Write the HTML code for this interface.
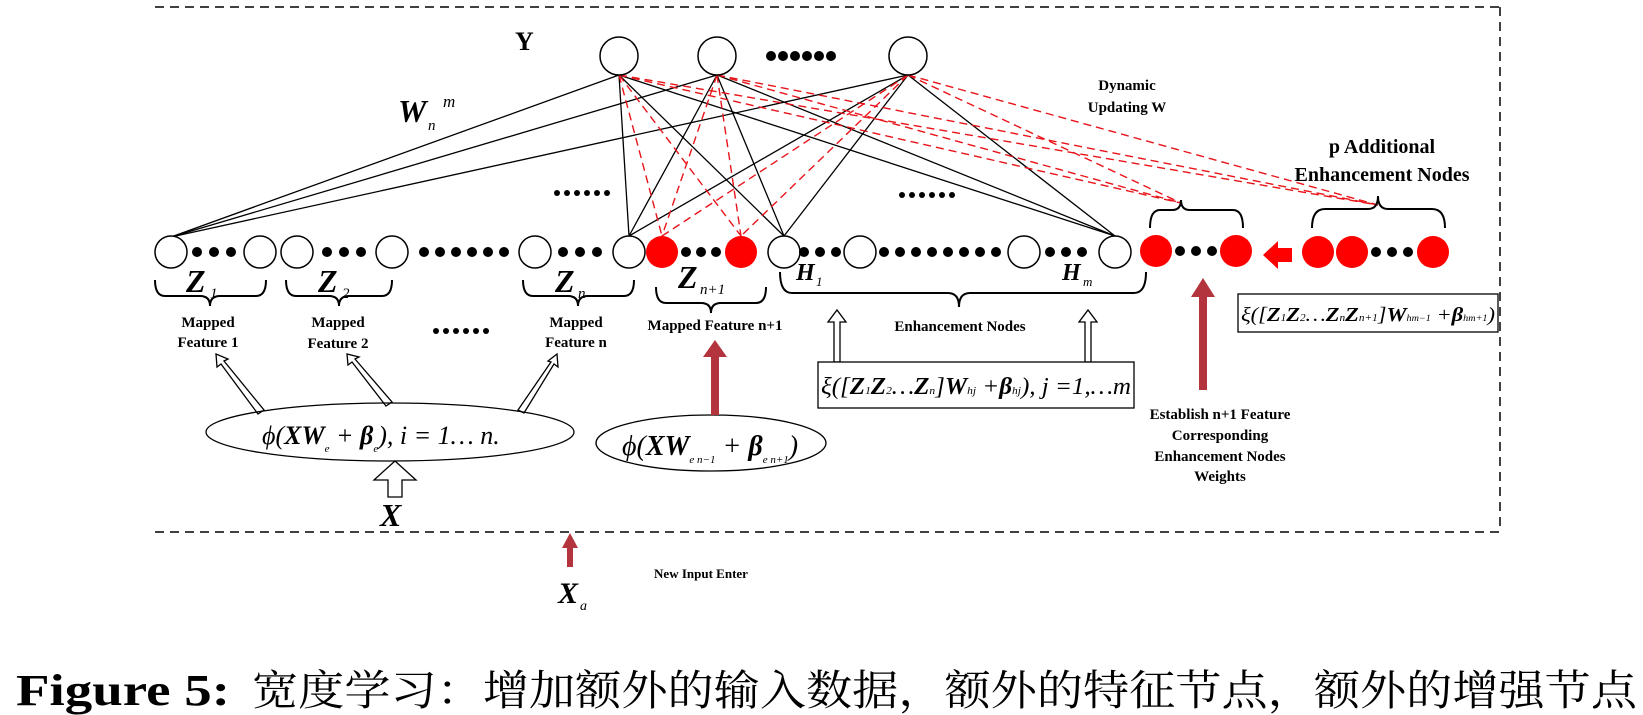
<!DOCTYPE html>
<html><head><meta charset="utf-8"><style>
body{margin:0;background:#fff;}
svg{display:block;}
.t{font-family:"Liberation Serif",serif;font-weight:bold;}
.m{font-family:"Liberation Serif",serif;font-style:italic;}
</style></head><body>
<svg width="1643" height="715" viewBox="0 0 1643 715" xmlns="http://www.w3.org/2000/svg">
<!-- frame -->
<g stroke="#000" stroke-width="1.5" stroke-dasharray="9,6" fill="none">
<line x1="155" y1="7" x2="1500" y2="7"/>
<line x1="1500" y1="7" x2="1500" y2="532"/>
<line x1="155" y1="532" x2="1500" y2="532"/>
</g>
<!-- black connections -->
<g stroke="#000" stroke-width="1.3">
<line x1="619" y1="75" x2="171" y2="237"/><line x1="717" y1="75" x2="171" y2="237"/><line x1="908" y1="75" x2="171" y2="237"/>
<line x1="619" y1="75" x2="629" y2="236"/><line x1="717" y1="75" x2="629" y2="236"/><line x1="908" y1="75" x2="629" y2="236"/>
<line x1="619" y1="75" x2="784" y2="236"/><line x1="717" y1="75" x2="784" y2="236"/><line x1="908" y1="75" x2="784" y2="236"/>
<line x1="619" y1="75" x2="1115" y2="236"/><line x1="717" y1="75" x2="1115" y2="236"/><line x1="908" y1="75" x2="1115" y2="236"/>
</g>
<!-- red dashed -->
<g stroke="#e8141a" stroke-width="1.4" stroke-dasharray="8,5">
<line x1="619" y1="75" x2="662" y2="236"/><line x1="717" y1="75" x2="662" y2="236"/><line x1="908" y1="75" x2="662" y2="236"/>
<line x1="619" y1="75" x2="741" y2="236"/><line x1="717" y1="75" x2="741" y2="236"/><line x1="908" y1="75" x2="741" y2="236"/>
<line x1="619" y1="75" x2="1181" y2="203"/><line x1="717" y1="75" x2="1181" y2="203"/><line x1="908" y1="75" x2="1181" y2="203"/>
<line x1="619" y1="75" x2="1378" y2="205"/><line x1="717" y1="75" x2="1378" y2="205"/><line x1="908" y1="75" x2="1378" y2="205"/>
</g>
<!-- output nodes -->
<g fill="#fff" stroke="#000" stroke-width="1.5">
<circle cx="619" cy="56" r="19"/><circle cx="717" cy="56" r="19"/><circle cx="908" cy="56" r="19"/>
</g>
<g fill="#000"><circle cx="771" cy="56" r="5"/><circle cx="783" cy="56" r="5"/><circle cx="795" cy="56" r="5"/><circle cx="807" cy="56" r="5"/><circle cx="819" cy="56" r="5"/><circle cx="831" cy="56" r="5"/></g>
<text class="t" x="515" y="50" font-size="26">Y</text>
<text class="m" x="398" y="122" font-size="32" font-weight="bold">W</text>
<text class="m" x="428" y="130" font-size="15">n</text>
<text class="m" x="443" y="107" font-size="17">m</text>
<g fill="#000">
<circle cx="557" cy="193" r="3"/><circle cx="567" cy="193" r="3"/><circle cx="577" cy="193" r="3"/><circle cx="587" cy="193" r="3"/><circle cx="597" cy="193" r="3"/><circle cx="607" cy="193" r="3"/>
<circle cx="902" cy="195" r="3"/><circle cx="912" cy="195" r="3"/><circle cx="922" cy="195" r="3"/><circle cx="932" cy="195" r="3"/><circle cx="942" cy="195" r="3"/><circle cx="952" cy="195" r="3"/>
<circle cx="436" cy="331" r="3"/><circle cx="446" cy="331" r="3"/><circle cx="456" cy="331" r="3"/><circle cx="466" cy="331" r="3"/><circle cx="476" cy="331" r="3"/><circle cx="486" cy="331" r="3"/>
</g>
<text class="t" x="1127" y="90" font-size="15" text-anchor="middle">Dynamic</text>
<text class="t" x="1127" y="112" font-size="15" text-anchor="middle">Updating W</text>
<text class="t" x="1382" y="153" font-size="20" text-anchor="middle">p Additional</text>
<text class="t" x="1382" y="181" font-size="20" text-anchor="middle">Enhancement Nodes</text>
<!-- bottom row nodes -->
<g fill="#fff" stroke="#000" stroke-width="1.5">
<ellipse cx="171" cy="252" rx="16" ry="16"/><ellipse cx="260" cy="252" rx="16" ry="16"/>
<ellipse cx="297" cy="252" rx="16" ry="16"/><ellipse cx="392" cy="252" rx="16" ry="16"/>
<ellipse cx="535" cy="252" rx="16" ry="16"/><ellipse cx="629" cy="252" rx="16" ry="16"/>
<ellipse cx="784" cy="252" rx="16" ry="16"/><ellipse cx="860" cy="252" rx="16" ry="16"/>
<ellipse cx="1024" cy="252" rx="16" ry="16"/><ellipse cx="1115" cy="252" rx="16" ry="16"/>
</g>
<g fill="#f00">
<ellipse cx="662" cy="252" rx="16" ry="16"/><ellipse cx="741" cy="252" rx="16" ry="16"/>
<circle cx="1156" cy="251" r="16"/><circle cx="1236" cy="251" r="16"/>
<circle cx="1318" cy="252" r="16"/><circle cx="1352" cy="252" r="16"/><circle cx="1433" cy="252" r="16"/>
<polygon points="1263,255 1278,241 1278,248 1292,248 1292,262 1278,262 1278,269"/>
</g>
<g fill="#000">
<circle cx="197" cy="252" r="5"/><circle cx="214" cy="252" r="5"/><circle cx="231" cy="252" r="5"/>
<circle cx="327" cy="252" r="5"/><circle cx="344" cy="252" r="5"/><circle cx="361" cy="252" r="5"/>
<circle cx="424" cy="252" r="5"/><circle cx="440" cy="252" r="5"/><circle cx="456" cy="252" r="5"/><circle cx="472" cy="252" r="5"/><circle cx="488" cy="252" r="5"/><circle cx="504" cy="252" r="5"/>
<circle cx="563" cy="252" r="5"/><circle cx="580" cy="252" r="5"/><circle cx="597" cy="252" r="5"/>
<circle cx="686" cy="252" r="5"/><circle cx="701" cy="252" r="5"/><circle cx="716" cy="252" r="5"/>
<circle cx="804" cy="252" r="5"/><circle cx="820" cy="252" r="5"/><circle cx="836" cy="252" r="5"/>
<circle cx="884" cy="252" r="5"/><circle cx="900" cy="252" r="5"/><circle cx="916" cy="252" r="5"/><circle cx="932" cy="252" r="5"/><circle cx="948" cy="252" r="5"/><circle cx="964" cy="252" r="5"/><circle cx="980" cy="252" r="5"/><circle cx="996" cy="252" r="5"/>
<circle cx="1050" cy="252" r="5"/><circle cx="1066" cy="252" r="5"/><circle cx="1082" cy="252" r="5"/>
<circle cx="1180" cy="251" r="5"/><circle cx="1196" cy="251" r="5"/><circle cx="1212" cy="251" r="5"/>
<circle cx="1376" cy="252" r="5"/><circle cx="1392" cy="252" r="5"/><circle cx="1408" cy="252" r="5"/>
</g>
<!-- braces -->
<g fill="none" stroke="#000" stroke-width="2">
<path d="M155,280 Q155,296 165,296 L200,296 Q210,296 210,306 Q210,296 220,296 L256,296 Q266,296 266,280"/>
<path d="M286,280 Q286,296 296,296 L329,296 Q339,296 339,306 Q339,296 349,296 L382,296 Q392,296 392,280"/>
<path d="M523,280 Q523,296 533,296 L568,296 Q578,296 578,306 Q578,296 588,296 L624,296 Q634,296 634,280"/>
<path d="M656,287 Q656,303 666,303 L701,303 Q711,303 711,313 Q711,303 721,303 L756,303 Q766,303 766,287"/>
<path d="M780,272 Q780,293 792,293 L948,293 Q959,293 959,307 Q959,293 970,293 L1134,293 Q1146,293 1146,272"/>
<path d="M1150,228 Q1150,210 1160,210 L1172,210 Q1181,210 1181,200 Q1181,210 1190,210 L1233,210 Q1243,210 1243,228"/>
<path d="M1312,228 Q1312,209 1325,209 L1368,209 Q1378,209 1378,196 Q1378,209 1388,209 L1432,209 Q1445,209 1445,228"/>
</g>
<!-- Z labels -->
<g class="m" font-weight="bold">
<text x="186" y="292" font-size="32">Z</text><text x="210" y="298" font-size="15" font-weight="normal">1</text>
<text x="318" y="292" font-size="32">Z</text><text x="342" y="298" font-size="15" font-weight="normal">2</text>
<text x="555" y="292" font-size="32">Z</text><text x="578" y="298" font-size="15" font-weight="normal">n</text>
<text x="678" y="288" font-size="32">Z</text><text x="700" y="294" font-size="15" font-weight="normal">n+1</text>
<text x="796" y="280" font-size="24">H</text><text x="816" y="286" font-size="13" font-weight="normal">1</text>
<text x="1062" y="280" font-size="24">H</text><text x="1083" y="286" font-size="13" font-weight="normal">m</text>
</g>
<!-- labels -->
<g class="t" font-size="15" text-anchor="middle">
<text x="208" y="327">Mapped</text><text x="208" y="347">Feature 1</text>
<text x="338" y="327">Mapped</text><text x="338" y="348">Feature 2</text>
<text x="576" y="327">Mapped</text><text x="576" y="347">Feature n</text>
<text x="715" y="330">Mapped Feature n+1</text>
<text x="960" y="331">Enhancement Nodes</text>
<text x="1220" y="419">Establish n+1 Feature</text>
<text x="1220" y="440">Corresponding</text>
<text x="1220" y="461">Enhancement Nodes</text>
<text x="1220" y="481">Weights</text>
<text x="701" y="578" font-size="13">New Input Enter</text>
</g>
<!-- hollow arrows -->
<g fill="#fff" stroke="#000" stroke-width="1.3">
<polygon points="264,410 258,414 221,364 217,367 216,354 228,359 224,361"/>
<polygon points="392,402 386,406 352,362 348,365 347,354 359,357 355,359"/>
<polygon points="518,410 524,413 554,364 558,367 557,354 548,361 551,362"/>
<polygon points="388,497 388,480 374,480 395,461 416,480 402,480 402,497"/>
<polygon points="834,362 834,322 828,322 837,310 846,322 840,322 840,362"/>
<polygon points="1085,362 1085,322 1079,322 1088,310 1097,322 1091,322 1091,362"/>
</g>
<!-- ellipses -->
<ellipse cx="390" cy="432" rx="184" ry="29" fill="none" stroke="#000" stroke-width="1.3"/>
<text class="m" x="262" y="444" font-size="26"><tspan>ϕ(</tspan><tspan font-weight="bold">XW</tspan><tspan font-size="11" dy="8">e</tspan><tspan dy="-8"> + </tspan><tspan font-weight="bold">β</tspan><tspan font-size="11" dy="8">e</tspan><tspan dy="-8">), i = 1… n.</tspan></text>
<ellipse cx="711" cy="443" rx="115" ry="28" fill="none" stroke="#000" stroke-width="1.3"/>
<text class="m" x="622" y="455" font-size="28"><tspan>ϕ(</tspan><tspan font-weight="bold">XW</tspan><tspan font-size="11" dy="8">e n−1</tspan><tspan dy="-8"> + </tspan><tspan font-weight="bold">β</tspan><tspan font-size="11" dy="8">e n+1</tspan><tspan dy="-8">)</tspan></text>
<!-- boxes -->
<rect x="818" y="362" width="316" height="46" fill="#fff" stroke="#000" stroke-width="1.3"/>
<text class="m" x="821" y="394" font-size="24" textLength="310" lengthAdjust="spacingAndGlyphs"><tspan>ξ([</tspan><tspan font-weight="bold">Z</tspan><tspan font-size="11">1</tspan><tspan font-weight="bold">Z</tspan><tspan font-size="11">2</tspan><tspan>…</tspan><tspan font-weight="bold">Z</tspan><tspan font-size="11">n</tspan><tspan>]</tspan><tspan font-weight="bold">W</tspan><tspan font-size="11">hj</tspan><tspan> +</tspan><tspan font-weight="bold">β</tspan><tspan font-size="11">hj</tspan><tspan>), j =1,…m</tspan></text>
<rect x="1238" y="294" width="260" height="38" fill="#fff" stroke="#000" stroke-width="1.3"/>
<text class="m" x="1241" y="321" font-size="20" textLength="254" lengthAdjust="spacingAndGlyphs"><tspan>ξ([</tspan><tspan font-weight="bold">Z</tspan><tspan font-size="10">1</tspan><tspan font-weight="bold">Z</tspan><tspan font-size="10">2</tspan><tspan>…</tspan><tspan font-weight="bold">Z</tspan><tspan font-size="10">n</tspan><tspan font-weight="bold">Z</tspan><tspan font-size="10">n+1</tspan><tspan>]</tspan><tspan font-weight="bold">W</tspan><tspan font-size="9">hm−1</tspan><tspan> +</tspan><tspan font-weight="bold">β</tspan><tspan font-size="9">hm+1</tspan><tspan>)</tspan></text>
<!-- red arrows -->
<g fill="#b3343c">
<polygon points="711,415 711,357 703,357 715,340 727,357 719,357 719,415"/>
<polygon points="1199,390 1199,297 1191,297 1203,278 1215,297 1207,297 1207,390"/>
<polygon points="567,567 567,548 562,548 570,533 578,548 573,548 573,567"/>
</g>
<text class="m" x="558" y="603" font-size="30" font-weight="bold">X</text>
<text class="m" x="580" y="610" font-size="14">a</text>
<text class="m" x="380" y="526" font-size="32" font-weight="bold">X</text>
<!-- caption -->
<text x="16" y="705" font-family="Liberation Serif, serif" font-weight="bold" font-size="44" textLength="214" lengthAdjust="spacingAndGlyphs">Figure 5:</text>
<text x="252" y="705" font-family="'Noto Serif CJK SC','Noto Sans CJK SC',serif" font-size="42" textLength="1385" lengthAdjust="spacingAndGlyphs">宽度学习：增加额外的输入数据，额外的特征节点，额外的增强节点</text>
</svg>
</body></html>
